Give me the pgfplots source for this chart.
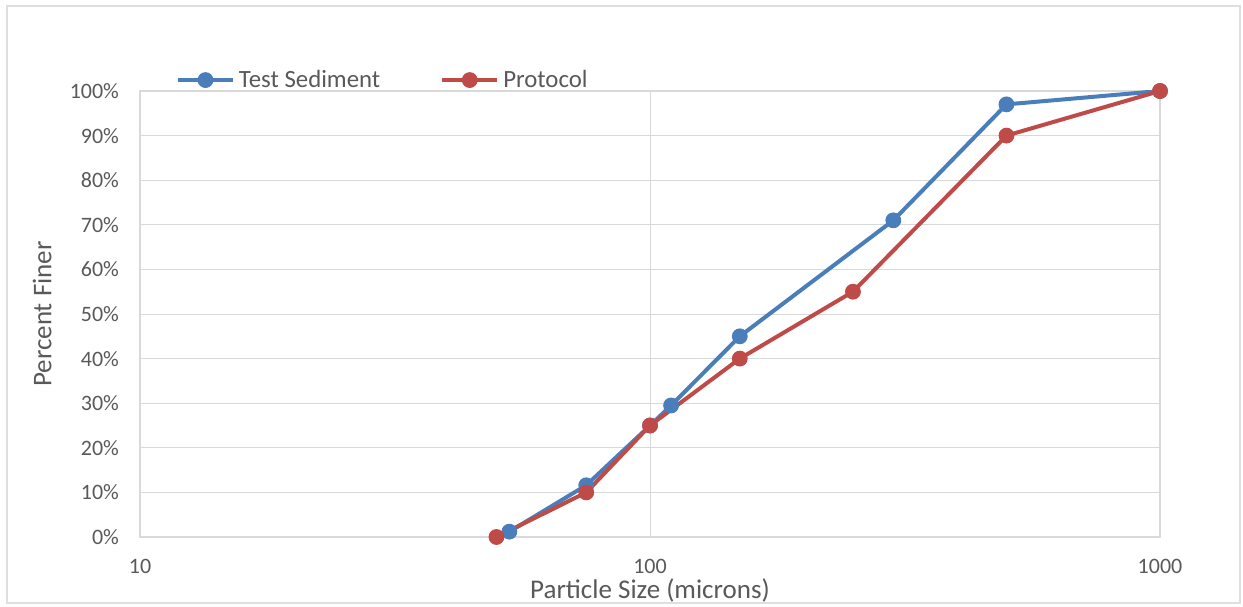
\documentclass[border=0pt]{standalone}
\usepackage{fontspec}
\setmainfont{Carlito}
\usepackage{pgfplots}
\pgfplotsset{compat=1.18}

\definecolor{tsblue}{HTML}{4A7EBB}
\definecolor{prred}{HTML}{BE4B48}
\definecolor{txtgray}{HTML}{595959}
\definecolor{gridgray}{HTML}{D9D9D9}

\begin{document}
\begin{tikzpicture}[x=1pt,y=1pt]
\begin{axis}[
    at={(0,0)}, anchor=south west,
    scale only axis,
    width=510pt, height=223pt,
    xmode=log, log basis x=10,
    xmin=10, xmax=1000, ymin=0, ymax=100,
    xtick={10,100,1000}, xticklabels={10,100,1000},
    ytick={0,10,...,100},
    yticklabel={\pgfmathprintnumber{\tick}\%},
    /pgf/number format/assume math mode=true,
    grid=both,
    major grid style={draw=gridgray, line width=0.5pt},
    minor grid style={draw=gridgray!55, line width=0.5pt},
    axis line style={draw=gridgray, line width=0.6pt},
    tick style={draw=none},
    ticklabel style={font=\fontsize{11}{13}\selectfont, text=txtgray},
    yticklabel style={anchor=east, xshift=-7pt},
    xticklabel style={anchor=north, yshift=-7.5pt},
    xlabel={Particle Size (microns)},
    ylabel={Percent Finer},
    label style={font=\fontsize{13.5}{16}\selectfont, text=txtgray},
    xlabel style={at={(axis description cs:0.5,-0.119)}, anchor=center},
    ylabel style={at={(axis description cs:-0.096,0.5)}, anchor=center},
    legend columns=2,
    legend style={draw=none, fill=none, at={(axis description cs:0.029,1.0245)}, anchor=west,
        font=\fontsize{12.4}{14}\selectfont, text=txtgray,
        /tikz/every even column/.append style={column sep=28pt}},
    legend cell align=left,
    legend image code/.code={
        \draw[mark repeat=2, mark phase=2, #1] plot coordinates {(0pt,0pt) (13.75pt,0pt) (27.5pt,0pt)};
    },
]
\addplot[tsblue, line width=2pt, mark=*, mark size=3.7pt, mark options={fill=tsblue, draw=tsblue, line width=0.5pt}]
coordinates {
    (53,1.2) (75,11.6) (100,25) (110,29.5) (150,45) (300,71) (500,97) (1000,100)
};
\addlegendentry{Test Sediment}
\addplot[prred, line width=2pt, mark=*, mark size=3.7pt, mark options={fill=prred, draw=prred, line width=0.5pt}]
coordinates {
    (50,0) (75,10) (100,25) (150,40) (250,55) (500,90) (1000,100)
};
\addlegendentry{Protocol}
\end{axis}
\draw[gray!25, line width=1pt] (-66.5,-33) rectangle (550,265.5);
\pgfresetboundingbox
\path[use as bounding box] (-70,-34.5) rectangle (551.5,268.5);
\end{tikzpicture}
\end{document}
